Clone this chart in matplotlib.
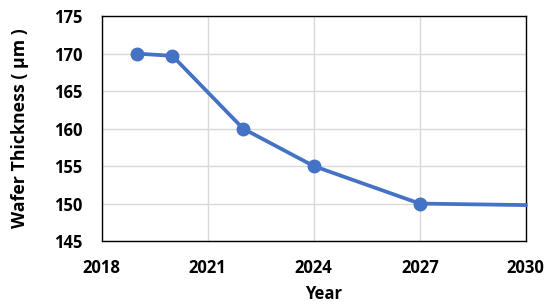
import matplotlib.pyplot as plt

# Wafer thickness projection
years = [2019, 2020, 2022, 2024, 2027, 2030]
thickness = [170.0, 169.7, 160.0, 155.0, 150.0, 149.8]
has_marker = [0, 1, 2, 3, 4]  # last point has no marker
x_ticks = [2018, 2021, 2024, 2027, 2030]
y_ticks = [145, 150, 155, 160, 165, 170, 175]

plt.rcParams['font.family'] = ['Open Sans', 'DejaVu Sans']
plt.rcParams['font.weight'] = 'bold'

fig = plt.figure(figsize=(5.5, 3.04), dpi=100)
ax = fig.add_axes([0.185, 0.207, 0.771, 0.740])

ax.plot(years, thickness, color='#4472C4', linewidth=2.7, marker='o',
        markersize=9, markevery=has_marker, clip_on=False, zorder=3)

ax.set_xlim(2018, 2030)
ax.set_ylim(145, 175)
ax.set_xticks(x_ticks)
ax.set_yticks(y_ticks)
ax.grid(True, color='#d9d9d9', linewidth=1)
ax.set_axisbelow(True)
for s in ax.spines.values():
    s.set_color('black')
    s.set_linewidth(1)
ax.tick_params(axis='y', length=0, labelsize=12, pad=14)
ax.tick_params(axis='x', length=0, labelsize=12, pad=13)
for lbl in ax.get_xticklabels() + ax.get_yticklabels():
    lbl.set_fontweight('bold')

ax.set_xlabel('Year', fontsize=12, fontweight='bold', labelpad=1)
ax.xaxis.set_label_coords(0.524, -0.195)
ax.set_ylabel('Wafer Thickness ( μm )', fontsize=12.8, fontweight='bold', labelpad=10)
ax.yaxis.set_label_coords(-0.172, 0.5)

fig.savefig('out.png', dpi=100)
